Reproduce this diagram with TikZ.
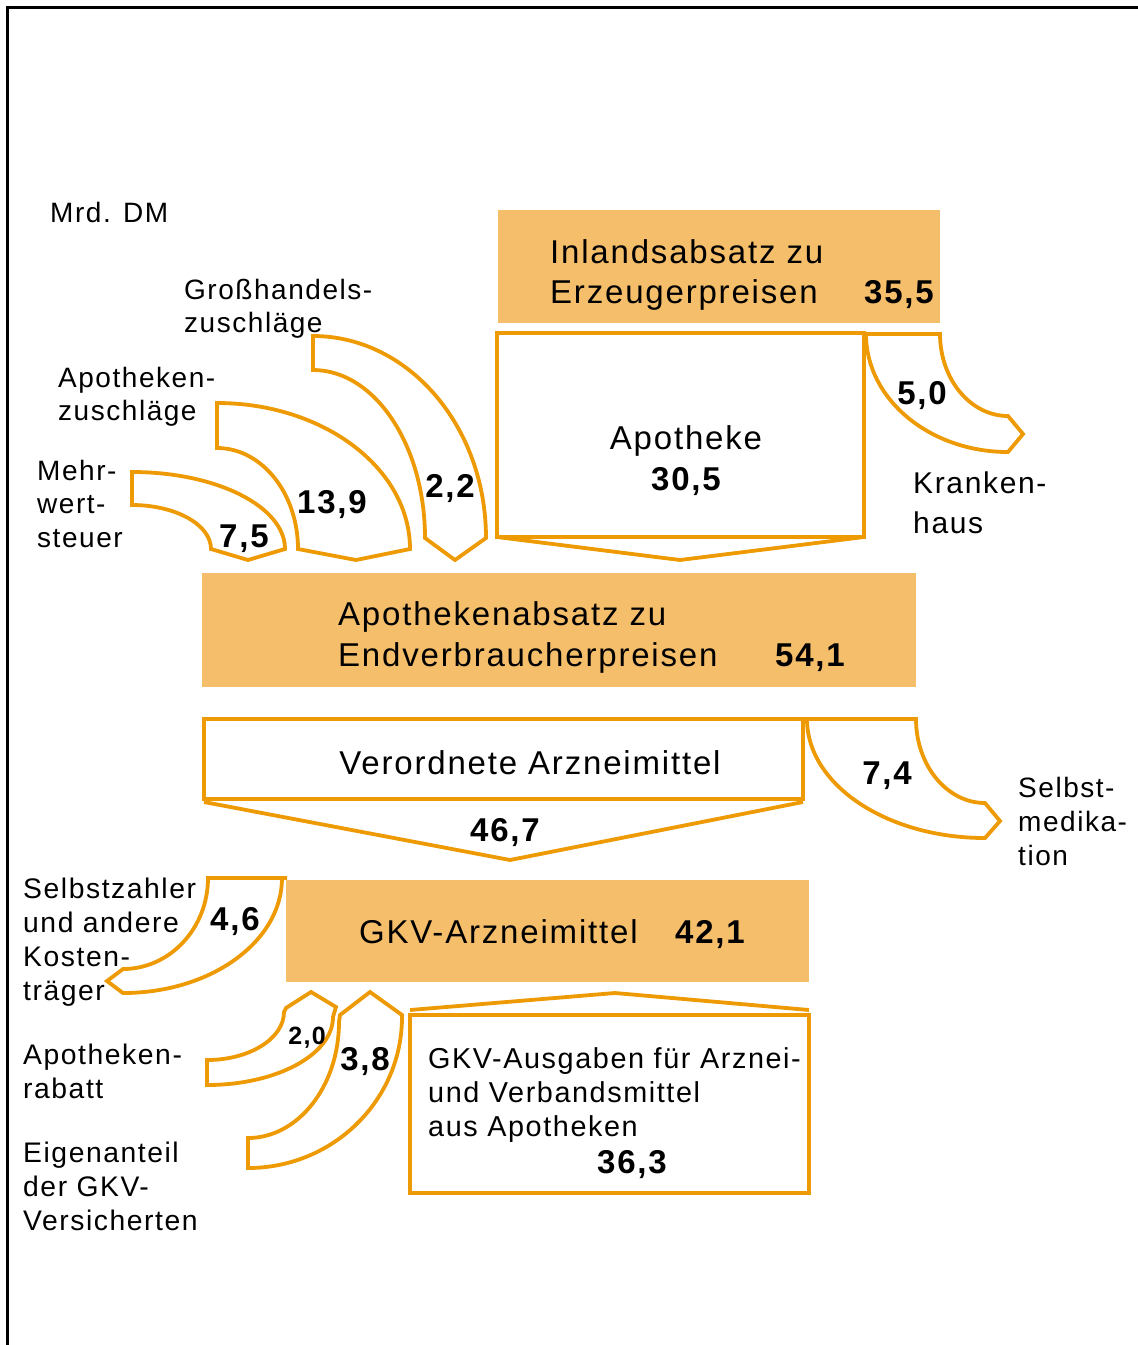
\documentclass[tikz,border=0pt]{standalone}
\usepackage{fontspec}
\setmainfont{Liberation Sans}[LetterSpace=5.5]
\definecolor{boxfill}{HTML}{F5BE6B}
\definecolor{flowline}{HTML}{EE9A05}
\begin{document}
\begin{tikzpicture}[x=1pt,y=-1pt,
  flow/.style={draw=flowline, line width=3.8pt, line join=miter},
  fillbox/.style={fill=boxfill, draw=none, inner sep=0pt, outer sep=0pt},
  linebox/.style={draw=flowline, line width=3.8pt, fill=white, inner sep=0pt, outer sep=0pt},
  lbl/.style={font=\fontsize{28}{33.5}\selectfont, align=left, anchor=north west, inner sep=0pt},
  big/.style={font=\fontsize{33}{40}\selectfont, inner sep=0pt},
  num/.style={font=\bfseries\fontsize{33}{40}\selectfont, inner sep=0pt, anchor=base},
]
\useasboundingbox (0,0) rectangle (1138,1345);
\draw[line width=3pt] (7,1345) -- (7,7) -- (1138,7);

% ---- labels
\node[lbl] (mrd) at (50,202) {Mrd. DM};
\node[lbl] (grossl) at (184,279) {Großhandels-\\zuschläge};
\node[lbl] (apozl) at (58,367) {Apotheken-\\zuschläge};
\node[lbl] (mwstl) at (37,460) {Mehr-\\wert-\\steuer};
\node[lbl, font=\fontsize{30}{40}\selectfont] (khl) at (913,471.5) {Kranken-\\haus};
\node[lbl, font=\fontsize{28}{34}\selectfont] (smedl) at (1018,777) {Selbst-\\medika-\\tion};
\node[lbl, font=\fontsize{28.3}{34}\selectfont] (szl) at (23,878) {Selbstzahler\\und andere\\Kosten-\\träger};
\node[lbl, font=\fontsize{28.3}{34}\selectfont] (rabl) at (23,1044) {Apotheken-\\rabatt};
\node[lbl, font=\fontsize{28.3}{34}\selectfont] (eigl) at (23,1142) {Eigenanteil\\der GKV-\\Versicherten};

% ---- boxes
\node[fillbox, minimum width=442pt, minimum height=113pt] (inland) at (719,266.5) {};
\node[linebox, minimum width=367pt, minimum height=204pt] (apo) at (680.5,435) {};
\node[fillbox, minimum width=714pt, minimum height=114pt] (absatz) at (559,630) {};
\node[linebox, minimum width=599pt, minimum height=80pt] (verord) at (503.5,759) {};
\node[fillbox, minimum width=523pt, minimum height=102pt] (gkv) at (547.5,931) {};
\node[linebox, minimum width=399pt, minimum height=178pt] (ausg) at (609.5,1104) {};

% ---- box texts
\node[big, align=left, anchor=north west] (inlandt) at (550,239.4) {Inlandsabsatz zu\\Erzeugerpreisen};
\node[num, anchor=base east] (inlandn) at (934,303) {35,5};
\node[big, anchor=base] (apot) at (686,449) {Apotheke};
\node[num] (apon) at (686,490) {30,5};
\node[big, align=left, anchor=north west, font=\fontsize{33}{41}\selectfont] (absatzt) at (338,601.4) {Apothekenabsatz zu\\Endverbraucherpreisen};
\node[num, anchor=base east] (absatzn) at (845,666) {54,1};
\node[big, anchor=base] (verordt) at (530,774) {Verordnete Arzneimittel};
\node[big, anchor=base west] (gkvt) at (359,943) {GKV-Arzneimittel};
\node[num] (gkvn) at (710,943) {42,1};
\node[lbl, font=\fontsize{28.8}{34}\selectfont] (ausgt) at (428,1047) {GKV-Ausgaben für Arznei-\\und Verbandsmittel\\aus Apotheken};
\node[num] (ausgn) at (632,1173) {36,3};

% ---- chevrons
\coordinate (apotip) at (680,560);
\draw[flow] (apo.south west) -- (apotip) -- (apo.south east);
\coordinate (vl) at (204,802);
\coordinate (vtip) at (510,860);
\coordinate (vr) at (803,802);
\draw[flow] (vl) -- (vtip) -- (vr);
\coordinate (al) at (410,1010);
\coordinate (atip) at (615,993);
\coordinate (ar) at (809,1010);
\draw[flow] (al) -- (atip) -- (ar);

% ---- flows into Apotheke
\draw[flow] (132,472) -- (132,505) .. controls (175.6,505) and (211,524.7) .. (211,549)
  -- (248,560) -- (285,549) .. controls (285,506.5) and (216.5,472) .. (132,472) -- cycle;
\draw[flow] (217,403) -- (217,448) .. controls (261.7,448) and (298,493.2) .. (298,549)
  -- (356,560) -- (410,549) .. controls (410,468.4) and (323.5,403) .. (217,403) -- cycle;
\draw[flow] (313,336) -- (313,370) .. controls (374.8,370) and (425,445.3) .. (425,538)
  -- (455,560) -- (486,538) .. controls (486,426.5) and (408.5,336) .. (313,336) -- cycle;
\node[num] (n75) at (244,547) {7,5};
\node[num] (n139) at (332,513) {13,9};
\node[num] (n22) at (450,497) {2,2};

% ---- Krankenhaus
\draw[flow] (866,334) -- (940,334) .. controls (940,379.3) and (970.5,416) .. (1008,416)
  -- (1023,434) -- (1008,452) .. controls (929.6,452) and (866,399.1) .. (866,334) -- cycle;
\node[num] (n50) at (922,404) {5,0};

% ---- Selbstmedikation
\draw[flow] (807,719) -- (916,719) .. controls (916,765.4) and (946.9,803) .. (985,803)
  -- (1000,821) -- (985,838) .. controls (886.7,838) and (807,784.7) .. (807,719) -- cycle;
\node[num] (n74) at (887,784) {7,4};
\node[num] (n467) at (505,841) {46,7};

% ---- Selbstzahler
\draw[flow] (287,878) -- (208,878) .. controls (208,928.2) and (169.9,969) .. (123,969)
  -- (107,981) -- (123,993) .. controls (210.8,993) and (282,941.5) .. (282,878);
\node[num] (n46) at (235,930) {4,6};

% ---- Apothekenrabatt
\draw[flow] (207,1060) .. controls (249.5,1060) and (284,1038.5) .. (284,1012)
  -- (286,1008) -- (311,992) -- (336,1007) -- (333,1017)
  .. controls (333,1054.5) and (276.6,1085) .. (207,1085) -- cycle;
\node[num, font=\bfseries\fontsize{25}{30}\selectfont] (n20) at (307,1044) {2,0};

% ---- Eigenanteil
\draw[flow] (248,1138) .. controls (298.2,1138) and (339,1086) .. (339,1022)
  -- (340,1015) -- (370,992) -- (402,1015) -- (402,1017)
  .. controls (402,1100.4) and (333,1168) .. (248,1168) -- cycle;
\node[num] (n38) at (365,1070) {3,8};
\end{tikzpicture}
\end{document}
